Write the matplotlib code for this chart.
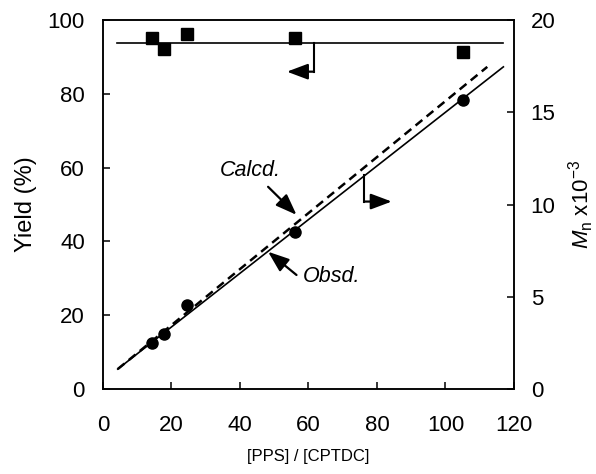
import matplotlib as mpl
import matplotlib.pyplot as plt

ratio = [14.4, 17.8, 24.5, 56.0, 105.2]
yield_pct = [95.1, 92.1, 96.2, 95.1, 91.3]
mn = [2.5, 3.0, 4.56, 8.5, 15.66]

yield_avg = 93.7
yield_x = [4.1, 116.8]
obsd_x = [4.3, 116.9]
obsd_mn = [1.08, 17.46]
calcd_x = [4.3, 112.2]
calcd_mn = [1.08, 17.46]

mpl.rcParams.update({'font.family': 'Liberation Sans', 'font.size': 16,
                     'mathtext.fontset': 'custom',
                     'mathtext.rm': 'Liberation Sans',
                     'mathtext.it': 'Liberation Sans:italic'})

dpi = 100
fig = plt.figure(dpi=dpi, figsize=(596 / dpi, 474 / dpi))
ax = fig.add_axes([0.1728, 0.1793, 0.6896, 0.7785])
ax2 = ax.twinx()

# yield (left axis)
ax.plot(ratio, yield_pct, 's', color='black', markersize=8)
ax.plot(yield_x, [yield_avg, yield_avg], color='black', lw=1.2)
ax.set_xlim(0, 120)
ax.set_ylim(0, 100)
ax.set_xticks(range(0, 121, 20))
ax.set_yticks(range(0, 101, 20))
ax.set_ylabel('Yield (%)', fontsize=17, labelpad=8)
ax.set_xlabel('[PPS] / [CPTDC]', fontsize=12, labelpad=9)

# Mn (right axis)
ax2.plot(ratio, mn, 'o', color='black', markersize=8)
ax2.plot(obsd_x, obsd_mn, color='black', lw=1.2)
ax2.plot(calcd_x, calcd_mn, color='black', lw=1.8, ls=(0, (3.5, 2.2)))
ax2.set_ylim(0, 20)
ax2.set_yticks(range(0, 21, 5))
ax2.set_ylabel(r'$\mathit{M}_\mathrm{n}$ x10$^{-3}$', labelpad=8)

for a in (ax, ax2):
    a.tick_params(direction='in', length=5, width=1.1)
    for s in a.spines.values():
        s.set_linewidth(1.1)
ax.tick_params(axis='x', pad=19)
ax.tick_params(axis='y', pad=13)
ax2.tick_params(axis='y', pad=12)

# axis pointer arrows
arr = dict(arrowstyle='-|>,head_length=0.8,head_width=0.3', color='black', lw=1.6,
           shrinkA=0, shrinkB=0)
ax.plot([61.6, 61.6], [yield_avg, 86.0], color='black', lw=1.5)
ax.annotate('', xy=(53.7, 86.0), xytext=(61.6, 86.0), arrowprops=arr)
ax.plot([76.3, 76.3], [57.9, 50.8], color='black', lw=1.5)
ax.annotate('', xy=(84.3, 50.8), xytext=(76.3, 50.8), arrowprops=arr)

# line labels
ax.annotate('', xy=(56.5, 47.2), xytext=(48.2, 54.8), arrowprops=arr)
ax.text(42.9, 59.3, 'Calcd.', style='italic', ha='center', va='center', fontsize=15.5)
ax.annotate('', xy=(48.2, 37.2), xytext=(56.5, 30.9), arrowprops=arr)
ax.text(66.8, 30.4, 'Obsd.', style='italic', ha='center', va='center', fontsize=15.5)

plt.savefig('out.png', dpi=dpi)
